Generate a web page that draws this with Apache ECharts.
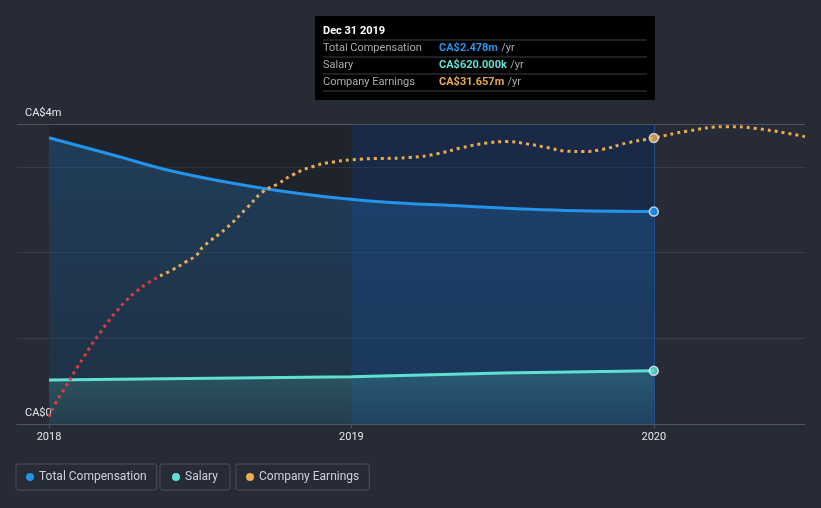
<!DOCTYPE html>
<html><head><meta charset="utf-8">
<script src="https://cdn.jsdelivr.net/npm/echarts@6/dist/echarts.min.js"></script>
<style>html,body{margin:0;padding:0;background:#262b36;}#c{width:821px;height:508px;}</style>
</head><body><div id="c"></div>
<script>
// ---- data ----
const xTicks = [2018, 2019, 2020];
const xTickLabels = ['2018', '2019', '2020'];
const yTickLabels = {0: 'CA$0', 3.5: 'CA$4m'};

const compYears  = [2018.0, 2018.2, 2018.42, 2018.69, 2018.97, 2019.2, 2019.33, 2019.63, 2020.0];
const compValues = [3.34, 3.15, 2.94, 2.76, 2.63, 2.57, 2.55, 2.50, 2.478]; // CA$ m

const salaryYears  = [2018.0, 2019.0, 2019.5, 2020.0];
const salaryValues = [0.512, 0.55, 0.595, 0.62]; // CA$ m

const earnYears = [2018.0, 2018.02, 2018.043, 2018.069, 2018.092, 2018.116, 2018.141, 2018.169, 2018.195,
  2018.224, 2018.255, 2018.29, 2018.327, 2018.367, 2018.41, 2018.45, 2018.488, 2018.509, 2018.587,
  2018.654, 2018.707, 2018.753, 2018.807, 2018.873, 2018.94, 2019.028, 2019.193, 2019.283, 2019.369,
  2019.448, 2019.514, 2019.58, 2019.646, 2019.712, 2019.765, 2019.831, 2019.911, 2020.0,
  2020.109, 2020.241, 2020.34, 2020.5];
const earnValues = [0.8, 2.2, 3.5, 4.9, 6.2, 7.45, 8.8, 10.1, 11.3,
  12.5, 13.65, 14.7, 15.6, 16.4, 17.1, 17.9, 18.7, 19.6, 21.7,
  23.9, 25.7, 26.5, 27.6, 28.5, 29.0, 29.3, 29.5, 29.9, 30.6,
  31.1, 31.25, 31.0, 30.6, 30.2, 30.15, 30.4, 31.1, 31.657,
  32.4, 32.9, 32.7, 31.8]; // CA$ m
const earnRedUntil = 2018.39; // earnings drawn red before this date

const hoverLabel = 'Dec 31 2019';
const hoverX = 2020;

// ---- build ----
const pairs = (xs, ys) => xs.map((x, i) => [x, ys[i]]);
const compData = pairs(compYears, compValues);
const salaryData = pairs(salaryYears, salaryValues);
const earnData = pairs(earnYears, earnValues);
let splitIdx = earnYears.findIndex(y => y >= earnRedUntil) - 1;
const earnRedData = earnData.slice(0, splitIdx + 1);
const earnMainData = earnData.slice(splitIdx);
const earnHoverIdx = earnYears.indexOf(hoverX);

const C_COMP = '#2394ea', C_SAL = '#5fe0d2', C_EARN = '#e8aa52', C_NEG = '#e03a3e';
const FONT = 'Roboto, "Noto Sans", sans-serif';

const legendCommon = {
  orient: 'horizontal', top: 464, itemWidth: 8, itemHeight: 8, icon: 'circle', itemGap: 0,
  borderColor: '#4b515c', borderWidth: 1, borderRadius: 2, padding: [7, 10, 7, 10],
  textStyle: {color: '#cdd1d8', fontSize: 12, fontFamily: FONT}, selectedMode: false
};

const chart = echarts.init(document.getElementById('c'));
const lastComp = compValues[compValues.length - 1];
const lastSal = salaryValues[salaryValues.length - 1];
const hoverEarn = earnValues[earnHoverIdx];

function row(y, label, value, color) {
  return [
    {type: 'text', x: 8, y: y, style: {text: label, fill: '#a9abb0', font: '11px ' + FONT, verticalAlign: 'middle'}},
    {type: 'text', x: 124, y: y, style: {text: '{v|' + value + '} {u|/yr}', verticalAlign: 'middle',
      rich: {v: {fill: color, color: color, fontWeight: 'bold', fontSize: 11, fontFamily: FONT},
             u: {fill: '#a9abb0', color: '#a9abb0', fontSize: 11, fontFamily: FONT}}}}
  ];
}
function sep(y) {
  return {type: 'line', shape: {x1: 8, y1: y, x2: 332, y2: y}, style: {stroke: '#3d3f44', lineWidth: 1}};
}
const earnLine = {width: 3, type: [3, 4], cap: 'butt'};

chart.setOption({
  backgroundColor: '#262b36',
  animation: false,
  grid: {left: 17, right: 16, top: 124, bottom: 84},
  xAxis: {
    type: 'value', min: 2017.894, max: 2020.5,
    axisLine: {show: true, lineStyle: {color: '#4f5663', width: 1}},
    axisTick: {show: true, customValues: xTicks, length: 4, lineStyle: {color: '#4f5663'}},
    axisLabel: {customValues: xTicks, formatter: v => xTickLabels[xTicks.indexOf(v)] || '',
      color: '#e6e7ea', fontSize: 11, fontFamily: FONT, margin: 8},
    splitLine: {show: false}
  },
  yAxis: [{
    type: 'value', min: 0, max: 3.5, interval: 1,
    axisLine: {show: false}, axisTick: {show: false},
    splitLine: {lineStyle: {color: '#363c48', width: 1}},
    axisLabel: {inside: true, margin: 8, verticalAlign: 'bottom', padding: [0, 0, 5, 0],
      color: '#e6e7ea', fontSize: 11, fontFamily: FONT,
      formatter: v => yTickLabels[v] || ''}
  }, {
    type: 'value', min: 0, max: 33.2, show: false
  }],
  legend: [
    Object.assign({left: 16, data: [{name: 'Total Compensation', itemStyle: {color: C_COMP}}]}, legendCommon),
    Object.assign({left: 160, data: [{name: 'Salary', itemStyle: {color: C_SAL}}]}, legendCommon, {padding: [7, 12, 7, 12]}),
    Object.assign({left: 236, data: [{name: 'Company Earnings', itemStyle: {color: C_EARN}}]}, legendCommon)
  ],
  series: [{
    name: 'bands', type: 'line', data: [], z: 1, silent: true,
    markArea: {silent: true, data: [
      [{xAxis: 2018, itemStyle: {color: 'rgba(0,0,0,0.17)'}}, {xAxis: 2019}],
      [{xAxis: 2019, itemStyle: {color: 'rgba(0,40,110,0.30)'}}, {xAxis: 2020}]
    ]},
    markLine: {silent: true, symbol: 'none', label: {show: false}, data: [
      {xAxis: hoverX, lineStyle: {color: '#24508a', width: 1, type: 'solid'}},
      {yAxis: 3.5, lineStyle: {color: '#4f5560', width: 1, type: 'solid'}}
    ]}
  }, {
    name: 'Total Compensation', type: 'line', smooth: 0.4, symbol: 'none', data: compData, z: 2,
    lineStyle: {color: C_COMP, width: 3}, itemStyle: {color: C_COMP},
    areaStyle: {color: new echarts.graphic.LinearGradient(0, 0, 0, 1, [
      {offset: 0, color: 'rgba(33,150,243,0.32)'}, {offset: 1, color: 'rgba(33,150,243,0.16)'}])}
  }, {
    name: 'Salary', type: 'line', smooth: false, symbol: 'none', data: salaryData, z: 2,
    lineStyle: {color: C_SAL, width: 3}, itemStyle: {color: C_SAL},
    areaStyle: {color: new echarts.graphic.LinearGradient(0, 0, 0, 1, [
      {offset: 0, color: 'rgba(100,230,210,0.28)'}, {offset: 1, color: 'rgba(100,230,210,0.10)'}])}
  }, {
    name: 'Company Earnings (loss period)', type: 'line', smooth: true, symbol: 'none', yAxisIndex: 1,
    data: earnRedData, lineStyle: Object.assign({color: C_NEG}, earnLine), itemStyle: {color: C_NEG}, z: 3
  }, {
    name: 'Company Earnings', type: 'line', smooth: true, symbol: 'none', yAxisIndex: 1,
    data: earnMainData, lineStyle: Object.assign({color: C_EARN}, earnLine), itemStyle: {color: C_EARN}, z: 3
  }, {
    name: 'compEnd', type: 'scatter', data: [compData[compData.length - 1]], symbolSize: 9, z: 5,
    itemStyle: {color: C_COMP, borderColor: '#e8eef5', borderWidth: 1.5}
  }, {
    name: 'salEnd', type: 'scatter', data: [salaryData[salaryData.length - 1]], symbolSize: 9, z: 5,
    itemStyle: {color: C_SAL, borderColor: '#e8eef5', borderWidth: 1.5}
  }, {
    name: 'earnEnd', type: 'scatter', yAxisIndex: 1, data: [earnData[earnHoverIdx]], symbolSize: 9, z: 5,
    itemStyle: {color: C_EARN, borderColor: '#e8e4dc', borderWidth: 1.5}
  }],
  graphic: [{
    type: 'group', left: 315, top: 16, z: 100,
    children: [
      {type: 'rect', shape: {x: 0, y: 0, width: 340, height: 84}, style: {fill: '#000'}},
      {type: 'text', x: 8, y: 15, style: {text: hoverLabel, fill: '#fff', font: 'bold 11px ' + FONT, verticalAlign: 'middle'}},
      sep(24), sep(41), sep(58), sep(75),
      ...row(32.5, 'Total Compensation', 'CA$' + lastComp.toFixed(3) + 'm', C_COMP),
      ...row(49.5, 'Salary', 'CA$' + (lastSal * 1000).toFixed(3) + 'k', C_SAL),
      ...row(66.5, 'Company Earnings', 'CA$' + hoverEarn.toFixed(3) + 'm', C_EARN)
    ]
  }]
});
</script>
</body></html>
